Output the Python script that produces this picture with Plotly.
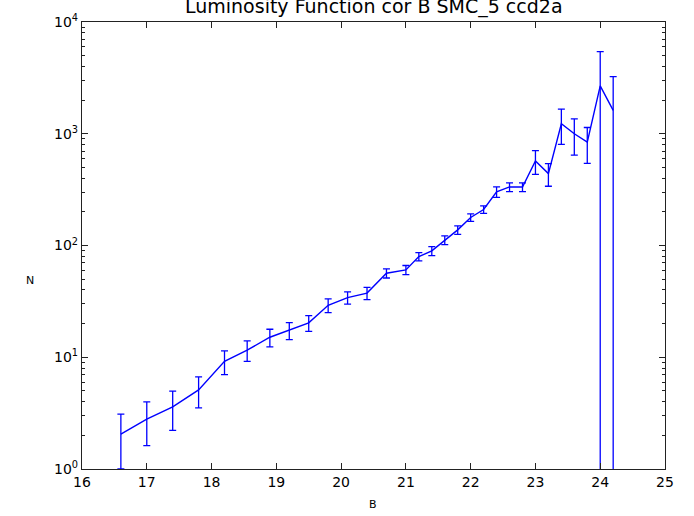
import plotly.graph_objects as go

# Luminosity function, SMC_5 ccd2a, completeness-corrected B counts
b_mag = [16.6, 17.0, 17.4, 17.8, 18.2, 18.55, 18.9, 19.2, 19.5, 19.8,
         20.1, 20.4, 20.7, 21.0, 21.2, 21.4, 21.6, 21.8, 22.0, 22.2,
         22.4, 22.6, 22.8, 23.0, 23.2, 23.4, 23.6, 23.8, 24.0, 24.2]
counts = [2.05, 2.8, 3.6, 5.1, 9.2, 11.6, 15.1, 17.4, 20.3, 29.2,
          34.2, 37.5, 56.5, 60.5, 79.5, 89.5, 112, 138, 178, 210,
          302, 334, 334, 570, 440, 1230, 1000, 840, 2680, 1620]
count_err = [1.05, 1.18, 1.38, 1.58, 2.2, 2.4, 2.7, 3.05, 3.25, 4.1,
             4.3, 4.7, 5.3, 5.7, 6.7, 8.3, 10, 12, 13.5, 16,
             32, 30, 30, 137, 101, 428, 356, 297, 2750, 1620]

x_ticks = [16, 17, 18, 19, 20, 21, 22, 23, 24, 25]
y_ticks = [1, 10, 100, 1000, 10000]
y_tick_text = ["10<sup>0</sup>", "10<sup>1</sup>", "10<sup>2</sup>",
               "10<sup>3</sup>", "10<sup>4</sup>"]

FONT = "DejaVu Sans"
BLUE = "#0000ff"

fig = go.Figure(
    go.Scatter(
        x=b_mag,
        y=counts,
        mode="lines",
        line=dict(color=BLUE, width=1.4),
        error_y=dict(type="data", array=count_err, visible=True,
                     color=BLUE, thickness=1.3, width=3.5),
        showlegend=False,
    )
)

axis_common = dict(
    showgrid=False,
    zeroline=False,
    showline=True,
    linecolor="#222222",
    linewidth=1.2,
    mirror="allticks",
    ticks="inside",
    tickcolor="#222222",
    tickwidth=1,
    tickfont=dict(family=FONT, size=14, color="#000000"),
)

fig.update_xaxes(
    range=[16, 25],
    tickvals=x_ticks,
    ticktext=[str(v) for v in x_ticks],
    ticklen=6,
    **axis_common,
)
fig.update_yaxes(
    type="log",
    range=[0, 4],
    tickvals=y_ticks,
    ticktext=y_tick_text,
    ticklen=6,
    minor=dict(ticks="inside", ticklen=3, tickcolor="#222222", dtick="D1"),
    **axis_common,
)

fig.update_layout(
    width=694,
    height=516,
    margin=dict(l=82, r=29, t=16, b=47),
    paper_bgcolor="#ffffff",
    plot_bgcolor="#ffffff",
    font=dict(family=FONT, color="#000000"),
    annotations=[
        dict(text="Luminosity Function cor B SMC_5 ccd2a",
             xref="paper", yref="paper", x=0.5, y=1.035,
             xanchor="center", yanchor="middle", showarrow=False,
             font=dict(family=FONT, size=19)),
        dict(text="B", xref="paper", yref="paper", x=0.499, y=-0.0795,
             xanchor="center", yanchor="middle", showarrow=False,
             font=dict(family=FONT, size=11)),
        dict(text="N", xref="paper", yref="paper", x=-0.0892, y=0.4216,
             xanchor="center", yanchor="middle", showarrow=False,
             font=dict(family=FONT, size=11)),
    ],
)

fig.write_html("out.html")
